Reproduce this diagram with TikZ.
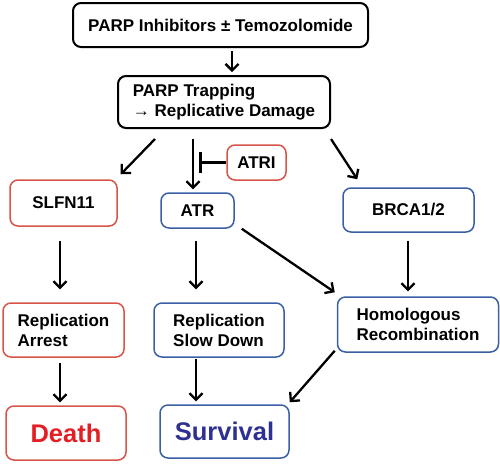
\documentclass[tikz,border=0pt]{standalone}
\usepackage{fontspec}
\setmainfont{Liberation Sans}
\usetikzlibrary{arrows.meta}
\definecolor{boxred}{RGB}{214,84,72}
\definecolor{boxblue}{RGB}{58,95,165}
\definecolor{deathred}{RGB}{227,30,36}
\definecolor{survblue}{RGB}{46,49,146}
\begin{document}
\begin{tikzpicture}[x=1pt, y=1pt,
		box/.style={draw, rounded corners=8pt, line width=1.5pt, align=left, inner sep=0pt, font=\fontsize{17}{20}\selectfont\bfseries},
		blackbox/.style={box, draw=black, line width=2pt},
		redbox/.style={box, draw=boxred},
		bluebox/.style={box, draw=boxblue},
		arr/.style={line width=2.3pt, -{Straight Barb[length=6.5pt,width=13pt]}},
		inh/.style={line width=2.3pt, -{Bar[width=21pt]}}]
		\useasboundingbox (0,0) rectangle (500,-467);
		\node[blackbox, minimum width=295, minimum height=44] (drug) at (220.5,-25) {PARP Inhibitors ± Temozolomide};
		\node[blackbox, minimum width=212, minimum height=52] (trap) at (224,-102) {PARP Trapping\\→ Replicative Damage};
		\node[redbox, minimum width=59, minimum height=35] (atri) at (256.5,-162.5) {ATRI};
		\node[redbox, minimum width=107, minimum height=46] (slfn) at (63.5,-203) {SLFN11};
		\node[bluebox, minimum width=73, minimum height=35] (atr) at (197.5,-210.5) {ATR};
		\node[bluebox, minimum width=131, minimum height=44] (brca) at (408.5,-210) {BRCA1/2};
		\node[redbox, minimum width=121, minimum height=54] (arrest) at (63.5,-330) {Replication\\Arrest};
		\node[bluebox, minimum width=130, minimum height=54] (slow) at (219,-330) {Replication\\Slow Down};
		\node[bluebox, minimum width=161, minimum height=55] (hr) at (418,-324.5) {Homologous\\Recombination};
		\node[redbox, minimum width=120, minimum height=54, font=\fontsize{25.5}{28}\selectfont\bfseries, text=deathred] (death) at (66,-433) {Death};
		\node[bluebox, minimum width=129, minimum height=53, font=\fontsize{25.5}{28}\selectfont\bfseries, text=survblue] (surv) at (224.5,-431.5) {Survival};

		\draw[arr] ([xshift=11.5, yshift=-3]drug.south) -- ([xshift=8, yshift=3]trap.north);
		\draw[arr] ([shift={(-69,-10)}]trap.south) -- ([shift={(3,5)}]slfn.north east);
		\draw[arr] ([xshift=-31, yshift=-10]trap.south) -- ([xshift=-4.5, yshift=3]atr.north);
		\draw[inh] (atri.west) -- ([xshift=-27]atri.west);
		\draw[arr] ([yshift=-10]trap.south east) -- ([shift={(15,8)}]brca.north west);
		\draw[arr] ([xshift=-3.5, yshift=-14]slfn.south) -- ([xshift=-3.5, yshift=13]arrest.north);
		\draw[arr] ([xshift=-1.5, yshift=-12]atr.south) -- ([xshift=-23, yshift=13]slow.north);
		\draw[arr] ([xshift=7]atr.south east) -- ([shift={(-2,4)}]hr.north west);
		\draw[arr] ([xshift=-0.5, yshift=-8]brca.south) -- ([xshift=-10, yshift=5]hr.north);
		\draw[arr] ([xshift=-3.5, yshift=-5]arrest.south) -- ([xshift=-6, yshift=3]death.north);
		\draw[arr] ([xshift=-23, yshift=-1]slow.south) -- ([xshift=-28.5, yshift=3]surv.north);
		\draw[arr] ([shift={(-2,2)}]hr.south west) -- ([yshift=2]surv.north east);
\end{tikzpicture}
\end{document}
